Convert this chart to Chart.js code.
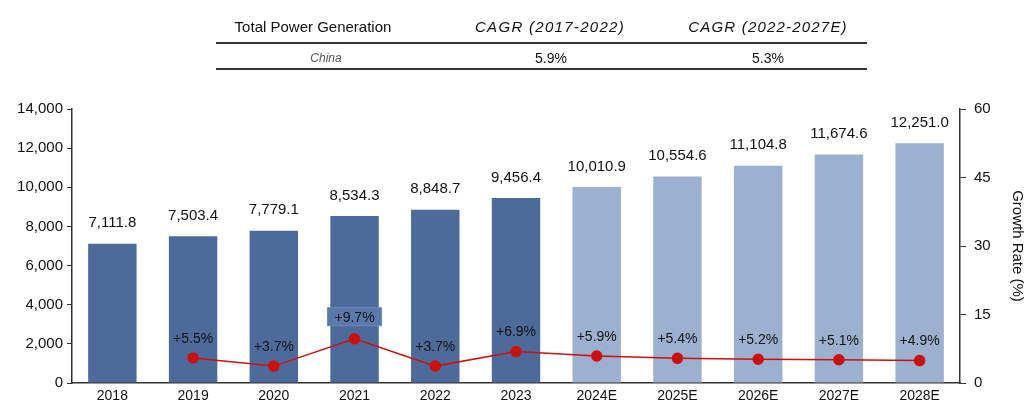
<!DOCTYPE html>
<html>
<head>
<meta charset="utf-8">
<script src="https://cdn.jsdelivr.net/npm/chart.js@4.4.0/dist/chart.umd.min.js"></script>
<style>
  body { margin: 0; background: #fff; font-family: "Liberation Sans", Arial, sans-serif; }
  #wrap { position: relative; width: 1026px; height: 403px; }
  #tbl { position: absolute; left: 216px; top: 0; width: 651px; height: 80px; }
  #tbl .line { position: absolute; left: 0; width: 651px; height: 2px; background: #333; }
  #tbl .t { position: absolute; transform: translate(-50%, -50%); white-space: nowrap; color: #111; }
</style>
</head>
<body>
<div id="wrap">
  <canvas id="grafico" width="1026" height="403"></canvas>
  <div id="tbl">
    <div class="t" style="left:97px;top:26px;font-size:15px;">Total Power Generation</div>
    <div class="t" style="left:334px;top:26px;font-size:15px;font-style:italic;letter-spacing:1.3px;">CAGR (2017-2022)</div>
    <div class="t" style="left:552px;top:26px;font-size:15px;font-style:italic;letter-spacing:1.2px;">CAGR (2022-2027E)</div>
    <div class="line" style="top:42px;"></div>
    <div class="t" style="left:110px;top:58px;font-size:12px;font-style:italic;color:#555;">China</div>
    <div class="t" style="left:335px;top:58px;font-size:14px;">5.9%</div>
    <div class="t" style="left:552px;top:58px;font-size:14px;">5.3%</div>
    <div class="line" style="top:68px;"></div>
  </div>
</div>
<script>
// dados do gráfico
var anos = ['2018', '2019', '2020', '2021', '2022', '2023', '2024E', '2025E', '2026E', '2027E', '2028E'];
var geracao = [7111.8, 7503.4, 7779.1, 8534.3, 8848.7, 9456.4, 10010.9, 10554.6, 11104.8, 11674.6, 12251.0];
var crescimento = [null, 5.5, 3.7, 9.7, 3.7, 6.9, 5.9, 5.4, 5.2, 5.1, 4.9];
var estimado = [false, false, false, false, false, false, true, true, true, true, true];

var corEscura = '#4c6b9b';
var corClara = '#9cb1cf';
var corLinha = '#cc1010';
var fonte = '"Liberation Sans", Arial, sans-serif';

function fmt(v) {
    return v.toLocaleString('en-US', { minimumFractionDigits: 1, maximumFractionDigits: 1 });
}

// plugin para os rótulos
var rotulos = {
    id: 'rotulos',
    afterDatasetsDraw: function(chart) {
        var ctx = chart.ctx;
        ctx.save();
        ctx.fillStyle = '#111';
        ctx.textAlign = 'center';
        ctx.textBaseline = 'bottom';
        ctx.font = '15px ' + fonte;
        chart.getDatasetMeta(1).data.forEach(function(bar, i) {
            ctx.fillText(fmt(geracao[i]), bar.x, bar.y - 13);
        });
        ctx.font = '14px ' + fonte;
        chart.getDatasetMeta(0).data.forEach(function(pt, i) {
            if (crescimento[i] === null) return;
            var txt = '+' + crescimento[i].toFixed(1) + '%';
            var y = pt.y - 12;
            if (i === 3) {
                var w = ctx.measureText(txt).width + 14;
                ctx.fillStyle = '#5a7aab';
                ctx.fillRect(pt.x - w / 2, y - 19, w, 18);
                ctx.strokeStyle = '#6f8cb8';
                ctx.strokeRect(pt.x - w / 2, y - 19, w, 18);
                ctx.fillStyle = '#111';
                ctx.fillText(txt, pt.x, y - 2);
                return;
            }
            ctx.fillText(txt, pt.x, y);
        });
        ctx.restore();
    }
};

var ctx = document.getElementById('grafico').getContext('2d');
new Chart(ctx, {
    data: {
        labels: anos,
        datasets: [
            {
                type: 'line',
                label: 'Growth Rate',
                data: crescimento,
                yAxisID: 'y1',
                borderColor: corLinha,
                borderWidth: 1.5,
                backgroundColor: corLinha,
                pointRadius: 5,
                pointBackgroundColor: corLinha,
                pointBorderColor: corLinha,
                tension: 0,
                order: 0
            },
            {
                type: 'bar',
                label: 'Total Power Generation',
                data: geracao,
                yAxisID: 'y',
                backgroundColor: estimado.map(function(e) { return e ? corClara : corEscura; }),
                categoryPercentage: 1,
                barPercentage: 0.6,
                order: 1
            }
        ]
    },
    options: {
        responsive: false,
        animation: false,
        layout: { padding: { top: 109, left: 0, right: 0, bottom: 0 } },
        plugins: { legend: { display: false }, tooltip: { enabled: false } },
        scales: {
            x: {
                grid: { display: false, drawTicks: false },
                border: { display: true, color: '#333', width: 1.5 },
                ticks: { color: '#111', font: { size: 14, family: fonte }, padding: 5, maxRotation: 0 },
                afterFit: function(s) { s.height = 20; }
            },
            y: {
                position: 'left',
                min: 0, max: 14000,
                grid: { drawOnChartArea: false, tickLength: 5, color: '#333' },
                border: { color: '#333', width: 1.5 },
                ticks: {
                    stepSize: 2000, color: '#111', padding: 4,
                    font: { size: 15, family: fonte },
                    callback: function(v) { return v.toLocaleString('en-US'); }
                },
                afterFit: function(s) { s.width = 72; }
            },
            y1: {
                position: 'right',
                min: 0, max: 60,
                grid: { drawOnChartArea: false, tickLength: 6, color: '#333' },
                border: { color: '#333', width: 1.5 },
                ticks: { stepSize: 15, color: '#111', padding: 8, font: { size: 15, family: fonte } },
                title: { display: true, text: 'Growth Rate (%)', color: '#111', font: { size: 15, family: fonte }, padding: 0 },
                afterFit: function(s) { s.width = 66; }
            }
        }
    },
    plugins: [rotulos]
});
</script>
</body>
</html>
